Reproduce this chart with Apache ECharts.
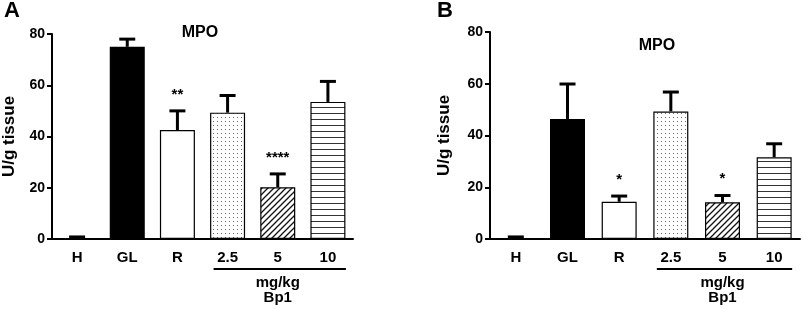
<!DOCTYPE html>
<html>
<head>
<meta charset="utf-8">
<script src="https://cdn.jsdelivr.net/npm/echarts@6/dist/echarts.min.js"></script>
<style>
  html, body { margin: 0; padding: 0; background: #fff; }
  #main { width: 803px; height: 309px; }
</style>
</head>
<body>
<div id="main"></div>
<script>
// 组别与数值
const categories = ['H', 'GL', 'R', '2.5', '5', '10'];
const meanA = [0.4, 75, 42.5, 49.3, 20.2, 53.5];
const semA = [0.4, 3, 7.5, 6.7, 5.2, 8];
const starsA = ['', '', '**', '', '****', ''];
const meanB = [0.4, 46.4, 14.4, 49.3, 14.2, 31.6];
const semB = [0.4, 13.5, 2.2, 7.5, 2.6, 5.2];
const starsB = ['', '', '*', '', '*', ''];
const yTicks = [0, 20, 40, 60, 80];

const FONT = 'Liberation Sans, Arial, sans-serif';

// 填充图案
function makePattern(kind) {
  const c = document.createElement('canvas');
  const ctx = c.getContext('2d');
  if (kind === 'dots') {
    c.width = 4; c.height = 4;
    ctx.fillStyle = '#fff'; ctx.fillRect(0, 0, 4, 4);
    ctx.fillStyle = '#666'; ctx.fillRect(1, 1, 1, 1);
  } else if (kind === 'diag') {
    c.width = 6; c.height = 6;
    ctx.fillStyle = '#fff'; ctx.fillRect(0, 0, 6, 6);
    ctx.strokeStyle = '#111'; ctx.lineWidth = 1.3;
    ctx.beginPath();
    ctx.moveTo(-1, 7); ctx.lineTo(7, -1);
    ctx.moveTo(-4, 4); ctx.lineTo(4, -4);
    ctx.moveTo(2, 10); ctx.lineTo(10, 2);
    ctx.stroke();
  } else {
    c.width = 6; c.height = 6;
    ctx.fillStyle = '#fff'; ctx.fillRect(0, 0, 6, 6);
    ctx.fillStyle = '#333'; ctx.fillRect(0, 5, 6, 1);
  }
  return {image: c, repeat: 'repeat'};
}
const fills = ['#000', '#000', '#fff', makePattern('dots'), makePattern('diag'), makePattern('hline')];

function barData(values) {
  return values.map((v, i) => ({value: v, itemStyle: {color: fills[i]}}));
}

function errData(mean, sem) {
  return mean.map((m, i) => [i, m, m + sem[i]]);
}

// 误差线（只画上半部分）和显著性星号
function errRender(params, api) {
  const base = api.coord([api.value(0), api.value(1)]);
  const top = api.coord([api.value(0), api.value(2)]);
  const star = (params.seriesIndex === 1 ? starsA : starsB)[params.dataIndex];
  const children = [
    {type: 'line', shape: {x1: base[0], y1: base[1], x2: top[0], y2: top[1]}, style: {stroke: '#000', lineWidth: 3}},
    {type: 'line', shape: {x1: top[0] - 8, y1: top[1], x2: top[0] + 8, y2: top[1]}, style: {stroke: '#000', lineWidth: 3}}
  ];
  if (star) {
    children.push({
      type: 'text',
      style: {
        text: star, x: top[0], y: top[1] - 9,
        align: 'center', verticalAlign: 'bottom',
        font: 'bold 15px ' + FONT, fill: '#000'
      }
    });
  }
  return {type: 'group', children: children};
}

function yAxisOpt(gridIndex) {
  return {
    type: 'value', gridIndex: gridIndex, min: 0, max: 80, interval: 20,
    name: 'U/g tissue', nameLocation: 'middle', nameGap: gridIndex === 0 ? 34 : 37,
    nameTextStyle: {fontFamily: FONT, fontWeight: 'bold', fontSize: 17, color: '#000'},
    axisLine: {show: true, lineStyle: {color: '#000', width: 2}},
    axisTick: {show: true, length: 5, lineStyle: {color: '#000', width: 2}},
    axisLabel: {
      margin: 7, fontFamily: FONT, fontWeight: 'bold', fontSize: 14, color: '#000',
      formatter: v => (yTicks.indexOf(v) >= 0 ? String(v) : '')
    },
    splitLine: {show: false}
  };
}
function xAxisOpt(gridIndex) {
  return {
    type: 'category', gridIndex: gridIndex, data: categories,
    axisLine: {lineStyle: {color: '#000', width: 2}},
    axisTick: {alignWithLabel: true, length: 5, lineStyle: {color: '#000', width: 2}},
    axisLabel: {margin: 11, fontFamily: FONT, fontWeight: 'bold', fontSize: 15, color: '#000'}
  };
}

const chart = echarts.init(document.getElementById('main'), null, {renderer: 'canvas'});
const option = {
  animation: false,
  backgroundColor: '#fff',
  title: [
    {text: 'MPO', left: 195, top: 20, textAlign: 'center',
      textStyle: {fontFamily: FONT, fontWeight: 'bold', fontSize: 16, color: '#000'}},
    {text: 'MPO', left: 652, top: 33, textAlign: 'center',
      textStyle: {fontFamily: FONT, fontWeight: 'bold', fontSize: 16, color: '#000'}}
  ],
  grid: [
    {left: 45, right: 450, top: 34, bottom: 70},
    {left: 490, right: 3, top: 32, bottom: 70}
  ],
  xAxis: [xAxisOpt(0), xAxisOpt(1)],
  yAxis: [yAxisOpt(0), yAxisOpt(1)],
  series: [
    {type: 'bar', xAxisIndex: 0, yAxisIndex: 0, barWidth: 35, data: barData(meanA),
      itemStyle: {borderColor: '#000', borderWidth: 1.2}},
    {type: 'custom', xAxisIndex: 0, yAxisIndex: 0, renderItem: errRender, data: errData(meanA, semA), z: 3},
    {type: 'bar', xAxisIndex: 1, yAxisIndex: 1, barWidth: 35, data: barData(meanB),
      itemStyle: {borderColor: '#000', borderWidth: 1.2}},
    {type: 'custom', xAxisIndex: 1, yAxisIndex: 1, renderItem: errRender, data: errData(meanB, semB), z: 3}
  ]
};
chart.setOption(option);

// 剂量组下方的横线与文字
const graphics = [
  {type: 'text', left: 4, top: 0, style: {text: 'A', font: 'bold 22px ' + FONT, fill: '#000'}},
  {type: 'text', left: 437, top: 0, style: {text: 'B', font: 'bold 22px ' + FONT, fill: '#000'}}
];
[0, 1].forEach(g => {
  const p0 = chart.convertToPixel({xAxisIndex: g, yAxisIndex: g}, ['2.5', 0]);
  const p1 = chart.convertToPixel({xAxisIndex: g, yAxisIndex: g}, ['10', 0]);
  const pm = chart.convertToPixel({xAxisIndex: g, yAxisIndex: g}, ['5', 0]);
  graphics.push({type: 'line', shape: {x1: p0[0] - 14, y1: 269, x2: p1[0] + 18, y2: 269},
    style: {stroke: '#000', lineWidth: 2}});
  graphics.push({type: 'text', x: pm[0], y: 283, style: {text: 'mg/kg', align: 'center', verticalAlign: 'middle',
    font: 'bold 15px ' + FONT, fill: '#000'}});
  graphics.push({type: 'text', x: pm[0], y: 298, style: {text: 'Bp1', align: 'center', verticalAlign: 'middle',
    font: 'bold 15px ' + FONT, fill: '#000'}});
});
chart.setOption({graphic: graphics});
</script>
</body>
</html>
